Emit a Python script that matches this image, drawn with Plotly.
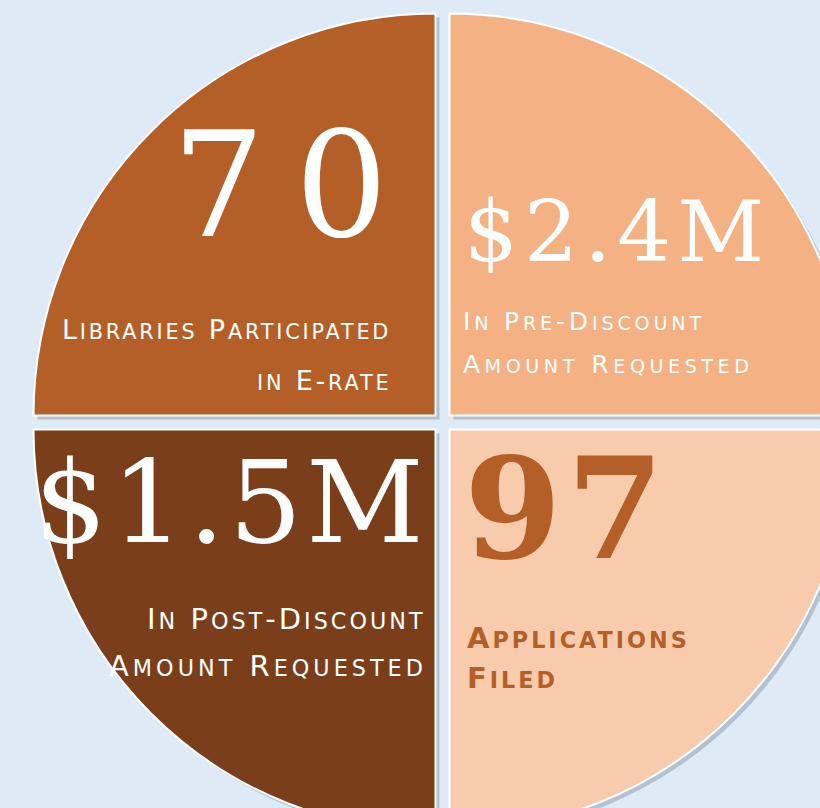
import math
import plotly.graph_objects as go

# ---- data -------------------------------------------------------------
categories = ["Pre-Discount Amount Requested", "Applications Filed",
              "Post-Discount Amount Requested", "Libraries Participated in E-rate"]
values = [1, 1, 1, 1]
headline = ["$2.4M", "97", "$1.5M", "70"]
colors = ["#F4B183", "#F8CBAD", "#7A3E1A", "#B45F28"]

# ---- geometry -----------------------------------------------------------
W, H = 885, 845          # figure larger than the window so the pie is cropped
CX, CY = 442.5, 422.5     # pie centre in pixels
R = 402                   # slice radius in pixels
GAP = 14                  # gap between slices in pixels
PULL = GAP / (math.sqrt(2) * R)
BOX = 2 * R * (1 + PULL)
BG = "#DEEBF7"
RUST = "#B45F28"


def domain(cx, cy):
    return dict(x=[(cx - BOX / 2) / W, (cx + BOX / 2) / W],
                y=[1 - (cy + BOX / 2) / H, 1 - (cy - BOX / 2) / H])


fig = go.Figure()
# soft shadow under the slices
fig.add_trace(go.Pie(
    labels=categories, values=values, sort=False, direction="clockwise",
    rotation=0, pull=[PULL] * 4, textinfo="none", hoverinfo="skip",
    marker=dict(colors=["rgba(70,85,110,0.28)"] * 4, line=dict(width=0)),
    domain=domain(CX + 4, CY + 4), showlegend=False,
))
fig.add_trace(go.Pie(
    labels=categories, values=values, sort=False, direction="clockwise",
    rotation=0, pull=[PULL] * 4, textinfo="none",
    hovertemplate="%{label}<extra></extra>",
    marker=dict(colors=colors, line=dict(color="white", width=2)),
    domain=domain(CX, CY), showlegend=False,
))


def smallcaps(text, big, ratio=0.77):
    """Capitals stay full size, lower-case letters become smaller capitals."""
    small = round(big * ratio, 1)
    out = []
    for ch in text:
        if ch.islower():
            out.append(f'<span style="font-size:{small}px">{ch.upper()}</span>')
        else:
            out.append(ch)
    return "".join(out)


def ann(text, x, y, anchor, size, color, family, spacing=0, weight="normal"):
    txt = f'<span style="letter-spacing:{spacing}px">{text}</span>' if spacing else text
    xpos = x + (spacing if anchor == "right" else 0)
    return dict(text=txt, x=xpos / W, y=1 - y / H, xref="paper", yref="paper",
                xanchor=anchor, yanchor="middle", showarrow=False,
                font=dict(family=family, size=size, color=color, weight=weight))


SERIF = "DejaVu Serif"
SANS = "DejaVu Sans"

annotations = [
    # top-left
    ann(headline[3], 390, 185, "right", 146, "white", SERIF, spacing=30),
    ann(smallcaps("Libraries Participated", 27), 390, 329.5, "right", 27, "white", SANS,
        spacing=2.8),
    ann(smallcaps("in E-rate", 27), 390, 380, "right", 27, "white", SANS, spacing=2.8),
    # top-right
    ann(headline[0], 462, 231, "left", 85, "white", SERIF, spacing=6),
    ann(smallcaps("In Pre-Discount", 25), 461, 321, "left", 25, "white", SANS,
        spacing=3.8),
    ann(smallcaps("Amount Requested", 25), 461, 364.5, "left", 25, "white", SANS,
        spacing=4.5),
    # bottom-left
    ann(headline[2], 32, 502, "left", 115, "white", SERIF, spacing=4),
    ann(smallcaps("In Post-Discount", 29), 425, 618.5, "right", 29, "white", SANS,
        spacing=3),
    ann(smallcaps("Amount Requested", 29), 425, 665.5, "right", 29, "white", SANS,
        spacing=4),
    # bottom-right
    ann(headline[1], 462, 509, "left", 140, RUST, SERIF, spacing=5, weight="bold"),
    ann(smallcaps("Applications", 29), 465, 637.5, "left", 29, RUST, SANS,
        spacing=3, weight="bold"),
    ann(smallcaps("Filed", 29), 465, 678, "left", 29, RUST, SANS,
        spacing=3, weight="bold"),
]

fig.update_layout(
    width=W, height=H,
    margin=dict(l=0, r=0, t=0, b=0),
    paper_bgcolor=BG, plot_bgcolor=BG,
    annotations=annotations,
    showlegend=False,
)

fig.write_html(
    "out.html",
    post_script=("document.body.style.margin='0';"
                 "document.body.style.overflow='hidden';"
                 "document.documentElement.style.overflow='hidden';"),
)
